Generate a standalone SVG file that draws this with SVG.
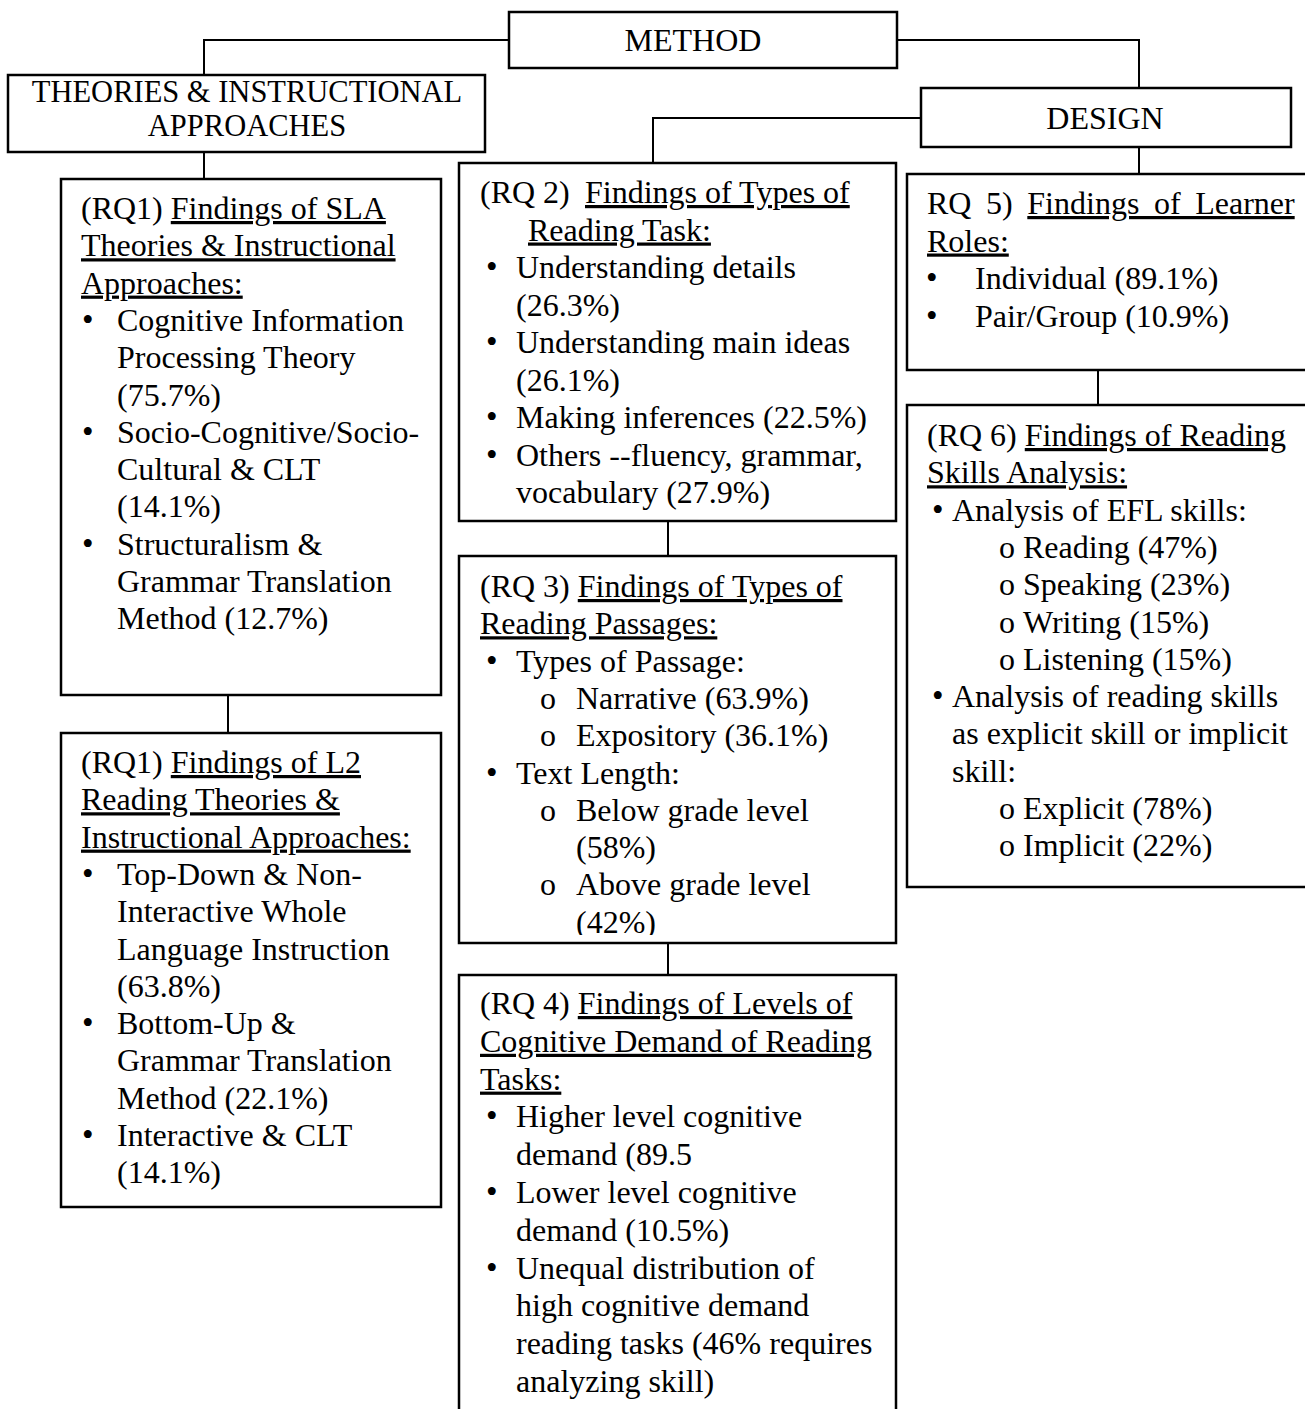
<svg xmlns="http://www.w3.org/2000/svg" width="1305" height="1409" viewBox="0 0 1305 1409">
<style>
.box{fill:#fff;stroke:#000;stroke-width:2.5}
.c{fill:none;stroke:#000;stroke-width:2}
text{font-family:"Liberation Serif","Times New Roman",serif;font-size:32px;fill:#000}
.u{text-decoration:underline}
.mid{text-anchor:middle}
.b{font-size:33px}
</style>
<defs>
<clipPath id="clip3"><rect x="459" y="556" width="437" height="379"/></clipPath>
</defs>
<rect width="1305" height="1409" fill="#fff"/>
<g id="connectors">
<polyline class="c" points="509,40 204,40 204,75"/>
<polyline class="c" points="897,40 1139,40 1139,88"/>
<line class="c" x1="204" y1="152" x2="204" y2="179"/>
<polyline class="c" points="921,118 653,118 653,163"/>
<line class="c" x1="1139" y1="147" x2="1139" y2="174"/>
<line class="c" x1="228" y1="695" x2="228" y2="733"/>
<line class="c" x1="668" y1="521" x2="668" y2="556"/>
<line class="c" x1="668" y1="943" x2="668" y2="975"/>
<line class="c" x1="1098" y1="370" x2="1098" y2="405"/>
</g>
<g id="method">
<rect class="box" x="509" y="12" width="388" height="56"/>
<text class="mid" x="693" y="51">METHOD</text>
</g>
<g id="theories">
<rect class="box" x="8" y="75" width="477" height="77"/>
<text class="mid" x="247" y="102" style="font-size:30.5px">THEORIES &amp; INSTRUCTIONAL</text>
<text class="mid" x="247" y="136" style="font-size:30.5px">APPROACHES</text>
</g>
<g id="design">
<rect class="box" x="921" y="88" width="370" height="59"/>
<text class="mid" x="1105" y="129">DESIGN</text>
</g>
<g id="rq1-sla">
<rect class="box" x="61" y="179" width="380" height="516"/>
<text x="81" y="219">(RQ1) <tspan class="u">Findings of SLA</tspan></text>
<text x="81" y="256.3" class="u">Theories &amp; Instructional</text>
<text x="81" y="293.6" class="u">Approaches:</text>
<text x="82" y="331"><tspan class="b">•</tspan><tspan x="117">Cognitive Information</tspan></text>
<text x="117" y="368.2">Processing Theory</text>
<text x="117" y="405.5">(75.7%)</text>
<text x="82" y="442.8"><tspan class="b">•</tspan><tspan x="117">Socio-Cognitive/Socio-</tspan></text>
<text x="117" y="480.1">Cultural &amp; CLT</text>
<text x="117" y="517.4">(14.1%)</text>
<text x="82" y="554.7"><tspan class="b">•</tspan><tspan x="117">Structuralism &amp;</tspan></text>
<text x="117" y="592">Grammar Translation</text>
<text x="117" y="629.3">Method (12.7%)</text>
</g>
<g id="rq1-l2">
<rect class="box" x="61" y="733" width="380" height="474"/>
<text x="81" y="773">(RQ1) <tspan class="u">Findings of L2</tspan></text>
<text x="81" y="810.3" class="u">Reading Theories &amp;</text>
<text x="81" y="847.6" class="u">Instructional Approaches:</text>
<text x="82" y="884.9"><tspan class="b">•</tspan><tspan x="117">Top-Down &amp; Non-</tspan></text>
<text x="117" y="922.2">Interactive Whole</text>
<text x="117" y="959.5">Language Instruction</text>
<text x="117" y="996.8">(63.8%)</text>
<text x="82" y="1034.1"><tspan class="b">•</tspan><tspan x="117">Bottom-Up &amp;</tspan></text>
<text x="117" y="1071.4">Grammar Translation</text>
<text x="117" y="1108.7">Method (22.1%)</text>
<text x="82" y="1146"><tspan class="b">•</tspan><tspan x="117">Interactive &amp; CLT</tspan></text>
<text x="117" y="1183.3">(14.1%)</text>
</g>
<g id="rq2">
<rect class="box" x="459" y="163" width="437" height="358"/>
<text x="480" y="203">(RQ 2)<tspan x="585" class="u">Findings of Types of</tspan></text>
<text x="528" y="240.5" class="u">Reading Task:</text>
<text x="486" y="278"><tspan class="b">•</tspan><tspan x="516">Understanding details</tspan></text>
<text x="516" y="315.5">(26.3%)</text>
<text x="486" y="353"><tspan class="b">•</tspan><tspan x="516">Understanding main ideas</tspan></text>
<text x="516" y="390.5">(26.1%)</text>
<text x="486" y="428"><tspan class="b">•</tspan><tspan x="516">Making inferences (22.5%)</tspan></text>
<text x="486" y="465.5"><tspan class="b">•</tspan><tspan x="516">Others --fluency, grammar,</tspan></text>
<text x="516" y="503">vocabulary (27.9%)</text>
</g>
<g id="rq3">
<rect class="box" x="459" y="556" width="437" height="387"/>
<g clip-path="url(#clip3)">
<text x="480" y="597">(RQ 3) <tspan class="u">Findings of Types of</tspan></text>
<text x="480" y="634.3" class="u">Reading Passages:</text>
<text x="486" y="671.6"><tspan class="b">•</tspan><tspan x="516">Types of Passage:</tspan></text>
<text x="540" y="708.9">o<tspan x="576">Narrative (63.9%)</tspan></text>
<text x="540" y="746.2">o<tspan x="576">Expository (36.1%)</tspan></text>
<text x="486" y="783.5"><tspan class="b">•</tspan><tspan x="516">Text Length:</tspan></text>
<text x="540" y="820.8">o<tspan x="576">Below grade level</tspan></text>
<text x="576" y="858.1">(58%)</text>
<text x="540" y="895.4">o<tspan x="576">Above grade level</tspan></text>
<text x="576" y="932.7">(42%)</text>
</g>
</g>
<g id="rq4">
<rect class="box" x="459" y="975" width="437" height="450"/>
<text x="480" y="1014">(RQ 4) <tspan class="u">Findings of Levels of</tspan></text>
<text x="480" y="1051.8" class="u">Cognitive Demand of Reading</text>
<text x="480" y="1089.6" class="u">Tasks:</text>
<text x="486" y="1127.4"><tspan class="b">•</tspan><tspan x="516">Higher level cognitive</tspan></text>
<text x="516" y="1165.2">demand (89.5</text>
<text x="486" y="1203"><tspan class="b">•</tspan><tspan x="516">Lower level cognitive</tspan></text>
<text x="516" y="1240.8">demand (10.5%)</text>
<text x="486" y="1278.6"><tspan class="b">•</tspan><tspan x="516">Unequal distribution of</tspan></text>
<text x="516" y="1316.4">high cognitive demand</text>
<text x="516" y="1354.2">reading tasks (46% requires</text>
<text x="516" y="1392">analyzing skill)</text>
</g>
<g id="rq5">
<rect class="box" x="907" y="174" width="420" height="196"/>
<text x="927" y="214" style="word-spacing:6.6px">RQ 5) <tspan class="u">Findings of Learner</tspan></text>
<text x="927" y="251.5" class="u">Roles:</text>
<text x="926" y="289"><tspan class="b">•</tspan><tspan x="975">Individual (89.1%)</tspan></text>
<text x="926" y="326.5"><tspan class="b">•</tspan><tspan x="975">Pair/Group (10.9%)</tspan></text>
</g>
<g id="rq6">
<rect class="box" x="907" y="405" width="420" height="482"/>
<text x="927" y="446">(RQ 6) <tspan class="u">Findings of Reading</tspan></text>
<text x="927" y="483.3" class="u">Skills Analysis:</text>
<text x="932" y="520.6"><tspan class="b">•</tspan><tspan x="952">Analysis of EFL skills:</tspan></text>
<text x="999" y="557.9">o<tspan x="1023">Reading (47%)</tspan></text>
<text x="999" y="595.2">o<tspan x="1023">Speaking (23%)</tspan></text>
<text x="999" y="632.5">o<tspan x="1023">Writing (15%)</tspan></text>
<text x="999" y="669.8">o<tspan x="1023">Listening (15%)</tspan></text>
<text x="932" y="707.1"><tspan class="b">•</tspan><tspan x="952">Analysis of reading skills</tspan></text>
<text x="952" y="744.4">as explicit skill or implicit</text>
<text x="952" y="781.7">skill:</text>
<text x="999" y="819">o<tspan x="1023">Explicit (78%)</tspan></text>
<text x="999" y="856.3">o<tspan x="1023">Implicit (22%)</tspan></text>
</g>
</svg>
